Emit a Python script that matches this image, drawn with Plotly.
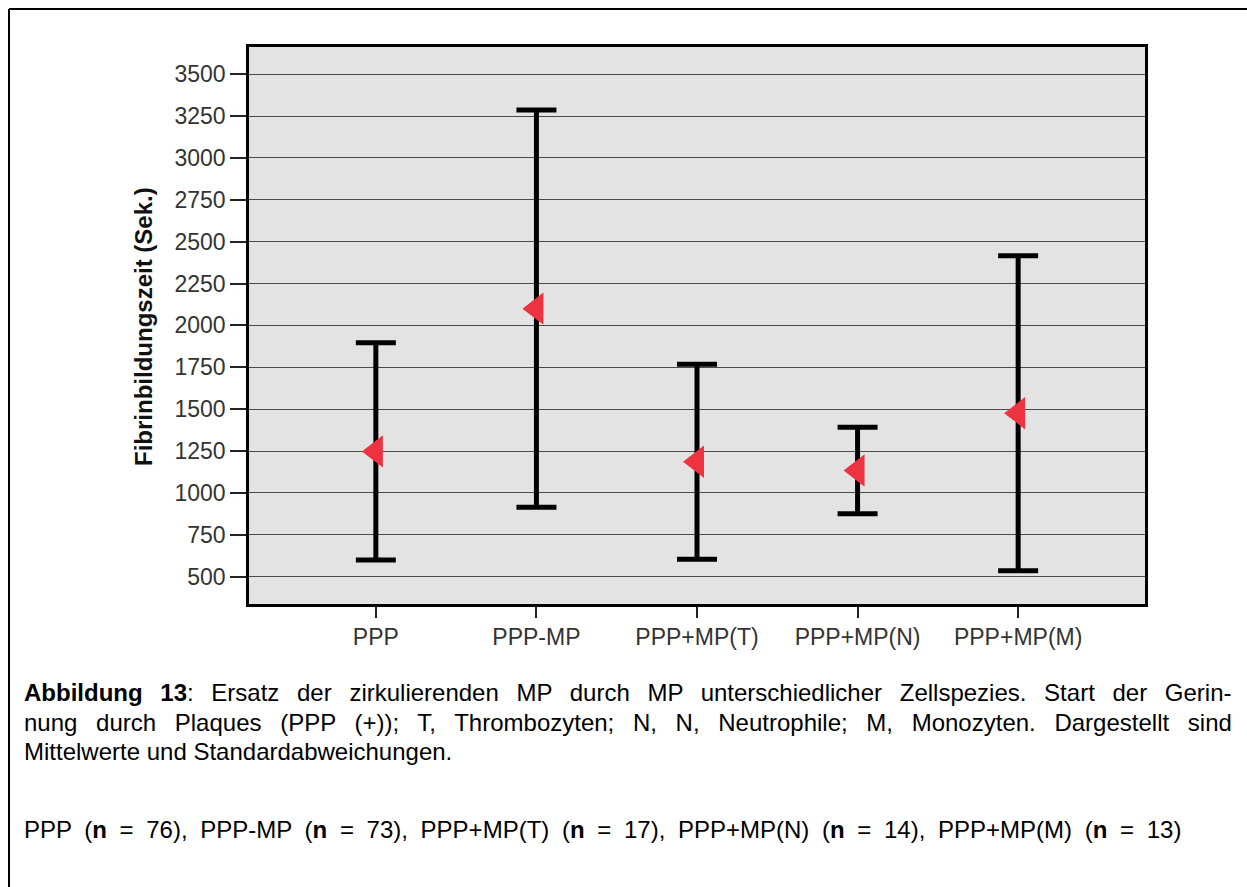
import plotly.graph_objects as go

# Gruppen, Mittelwerte und Standardabweichungen der Fibrinbildungszeit (Sek.)
groups = ["PPP", "PPP-MP", "PPP+MP(T)", "PPP+MP(N)", "PPP+MP(M)"]
means = [1248, 2100, 1186, 1134, 1476]
sds = [649, 1186, 582, 258, 940]
y_ticks = [500, 750, 1000, 1250, 1500, 1750, 2000, 2250, 2500, 2750, 3000, 3250, 3500]

W, H = 1247, 887
# plot area in pixels
PL, PR, PT, PB = 249, 1145, 46.7, 604

fig = go.Figure()
fig.add_trace(go.Scatter(
    x=list(range(len(groups))),
    y=means,
    mode="markers",
    marker=dict(symbol="triangle-left", size=28, color="#ee3340", line=dict(width=0)),
    error_y=dict(type="data", array=sds, visible=True, color="black", thickness=5, width=20),
    showlegend=False,
    hoverinfo="skip",
))

font_main = "Liberation Sans, Arial, sans-serif"

fig.update_layout(
    width=W, height=H,
    margin=dict(l=0, r=0, t=0, b=0),
    paper_bgcolor="white",
    plot_bgcolor="#e3e3e3",
    font=dict(family=font_main, color="#333333"),
    xaxis=dict(
        domain=[PL / W, PR / W],
        range=[-0.79, 4.79],
        tickmode="array",
        tickvals=list(range(len(groups))),
        ticktext=groups,
        ticks="outside", ticklen=11, tickwidth=1.5, tickcolor="#222",
        tickfont=dict(size=23, color="#333"),
        showgrid=False, zeroline=False,
        showline=True, linecolor="black", linewidth=2.5, mirror=True,
    ),
    yaxis=dict(
        domain=[1 - PB / H, 1 - PT / H],
        range=[337, 3664],
        tickmode="array",
        tickvals=y_ticks,
        ticktext=[str(v) for v in y_ticks],
        ticks="outside", ticklen=16, tickwidth=1.5, tickcolor="#222",
        tickfont=dict(size=23, color="#333"),
        showgrid=True, gridcolor="#4a4a4a", gridwidth=1,
        zeroline=False,
        showline=True, linecolor="black", linewidth=2.5, mirror=True,
    ),
)

# y-axis title
fig.add_annotation(
    x=143 / W, y=1 - 327 / H, xref="paper", yref="paper",
    text="<b>Fibrinbildungszeit (Sek.)</b>", textangle=-90,
    showarrow=False, font=dict(size=24, color="#111", family=font_main),
    xanchor="center", yanchor="middle",
)

# caption lines (first two justified via word spacing)
caption = [
    (692, 11, "<b>Abbildung 13</b>: Ersatz der zirkulierenden MP durch MP unterschiedlicher Zellspezies. Start der Gerin-"),
    (722, 12, "nung durch Plaques (PPP (+)); T, Thrombozyten; N, N, Neutrophile; M, Monozyten. Dargestellt sind"),
    (751, 0, "Mittelwerte und Standardabweichungen."),
    (829, 6, "PPP (<b>n</b> = 76), PPP-MP (<b>n</b> = 73), PPP+MP(T) (<b>n</b> = 17), PPP+MP(N) (<b>n</b> = 14), PPP+MP(M) (<b>n</b> = 13)"),
]
for ypix, ws, txt in caption:
    fig.add_annotation(
        x=22 / W, y=1 - ypix / H, xref="paper", yref="paper",
        text=f'<span style="word-spacing:{ws}px">{txt}</span>' if ws else txt,
        showarrow=False, xanchor="left", yanchor="middle",
        font=dict(size=24, color="black", family=font_main),
    )

# outer frame (top and left edges)
fig.add_shape(type="line", xref="paper", yref="paper",
              x0=9 / W, x1=1.0, y0=1 - 9 / H, y1=1 - 9 / H,
              line=dict(color="black", width=2))
fig.add_shape(type="line", xref="paper", yref="paper",
              x0=9 / W, x1=9 / W, y0=0, y1=1 - 9 / H,
              line=dict(color="black", width=2))

fig.write_html("out.html")
